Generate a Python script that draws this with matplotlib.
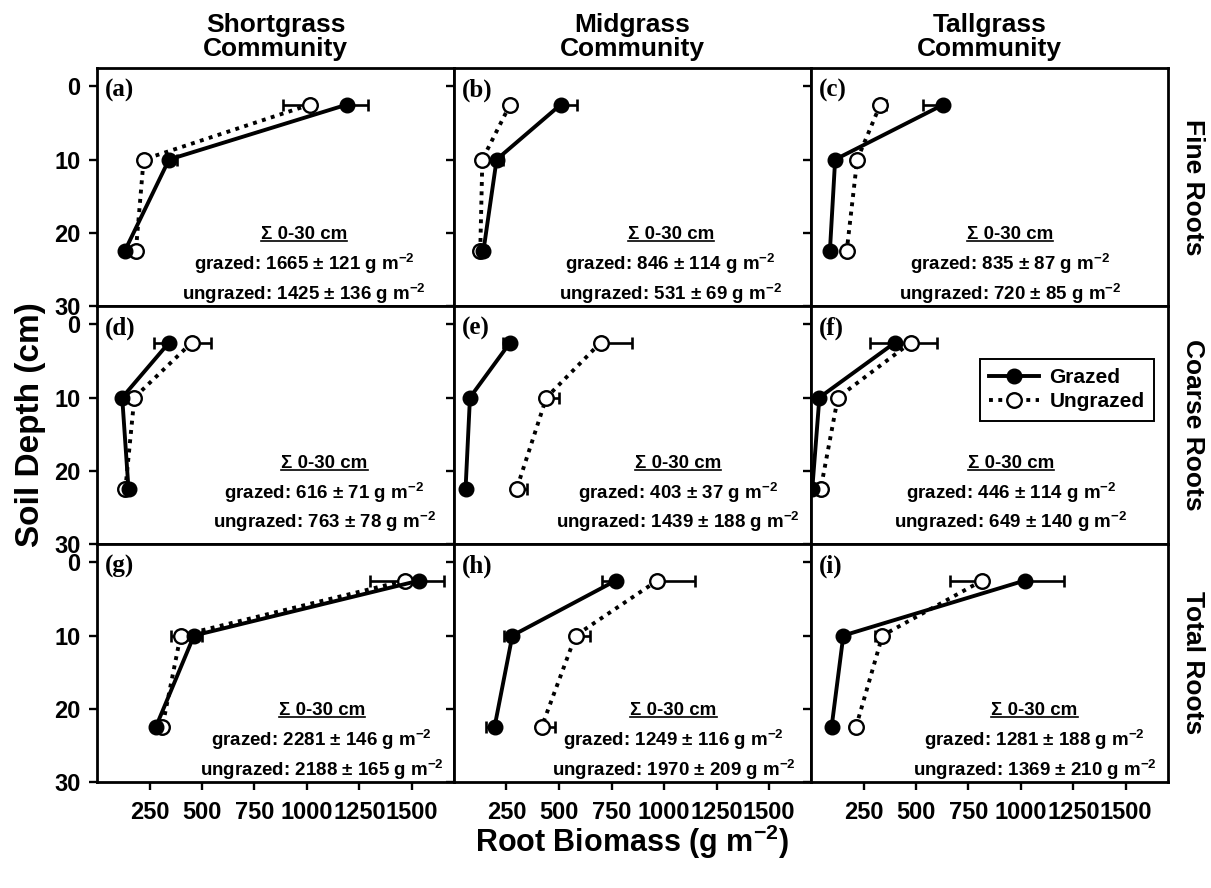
import numpy as np
import matplotlib
matplotlib.use("Agg")
import matplotlib.pyplot as plt
from matplotlib.lines import Line2D

plt.rcParams['font.family'] = ['Liberation Sans', 'DejaVu Sans']
plt.rcParams['font.weight'] = 'bold'
plt.rcParams['mathtext.fontset'] = 'custom'
plt.rcParams['mathtext.rm'] = 'Liberation Sans:bold'
plt.rcParams['mathtext.bf'] = 'Liberation Sans:bold'
plt.rcParams['mathtext.it'] = 'Liberation Sans:bold:italic'

# depth midpoints of the 0-5, 5-15, 15-30 cm layers
depth = [2.5, 10, 22.5]

communities = ["Shortgrass\nCommunity", "Midgrass\nCommunity", "Tallgrass\nCommunity"]
root_types = ["Fine Roots", "Coarse Roots", "Total Roots"]
panel_tags = [["(a)", "(b)", "(c)"], ["(d)", "(e)", "(f)"], ["(g)", "(h)", "(i)"]]

# root biomass per layer (g m-2), one list per community
fine_grazed = [[1190, 343, 132], [508, 203, 140], [630, 115, 90]]
fine_ungrazed = [[1014, 222, 185], [267, 135, 125], [330, 220, 170]]
coarse_grazed = [[343, 120, 150], [267, 76, 55], [400, 40, 6]]
coarse_ungrazed = [[451, 178, 135], [698, 440, 298], [475, 128, 46]]
total_grazed = [[1534, 462, 280], [770, 278, 193], [1017, 154, 98]]
total_ungrazed = [[1466, 398, 311], [968, 579, 417], [815, 340, 214]]

# standard errors, sign tells the side the bar is drawn on (+ right, - left)
fine_grazed_se = [[100, 38, 0], [76, 30, 15], [-95, 0, 0]]
fine_ungrazed_se = [[-129, 0, 0], [-24, 0, 0], [29, 0, 0]]
coarse_grazed_se = [[-70, 30, 0], [-32, 0, 0], [-119, 0, 0]]
coarse_ungrazed_se = [[90, 0, 0], [150, 60, 50], [127, 0, 0]]
total_grazed_se = [[119, 40, 0], [-67, -40, -40], [190, 0, 0]]
total_ungrazed_se = [[-164, -46, 0], [180, 68, 64], [-151, -37, 0]]

# 0-30 cm sums (g m-2)
sum_grazed = [[1665, 846, 835], [616, 403, 446], [2281, 1249, 1281]]
sum_grazed_se = [[121, 114, 87], [71, 37, 114], [146, 116, 188]]
sum_ungrazed = [[1425, 531, 720], [763, 1439, 649], [2188, 1970, 1369]]
sum_ungrazed_se = [[136, 69, 85], [78, 188, 140], [165, 209, 210]]

x_ticks_fine = [200, 400, 600, 800, 1000, 1200, 1400, 1600]
x_ticks = [250, 500, 750, 1000, 1250, 1500]
y_ticks = [0, 10, 20, 30]

grazed = [fine_grazed, coarse_grazed, total_grazed]
ungrazed = [fine_ungrazed, coarse_ungrazed, total_ungrazed]
grazed_se = [fine_grazed_se, coarse_grazed_se, total_grazed_se]
ungrazed_se = [fine_ungrazed_se, coarse_ungrazed_se, total_ungrazed_se]

W, H = 1211, 888
fig = plt.figure(figsize=(W / 100, H / 100), dpi=100)
axes = fig.subplots(3, 3)
fig.subplots_adjust(left=97 / W, right=1168 / W, bottom=1 - 782 / H, top=1 - 68 / H,
                    wspace=0, hspace=0)

text_x = [[0.58, 0.607, 0.557], [0.637, 0.628, 0.56], [0.63, 0.615, 0.626]]
text_y = [[0.28, 0.153, 0.027], [0.318, 0.19, 0.067], [0.28, 0.15, 0.024]]


def split_err(se):
    se = np.array(se, dtype=float)
    return [np.where(se < 0, -se, 0), np.where(se > 0, se, 0)]


sigma_texts = []
for r in range(3):
    for c in range(3):
        ax = axes[r][c]
        g = grazed[r][c]
        u = ungrazed[r][c]
        ax.errorbar(u, depth, xerr=split_err(ungrazed_se[r][c]), fmt='none', ecolor='k',
                    elinewidth=1.9, capsize=4, capthick=1.9, zorder=2)
        ax.errorbar(g, depth, xerr=split_err(grazed_se[r][c]), fmt='none', ecolor='k',
                    elinewidth=1.9, capsize=4, capthick=1.9, zorder=2)
        ax.plot(g, depth, color='k', lw=2.8, marker='o', ms=10.5, mfc='k', mec='k',
                label='Grazed', zorder=4)
        ax.plot(u, depth, color='k', lw=2.8, ls=(0, (1, 1.4)), marker='o', ms=10.5,
                mfc='white', mec='k', mew=1.7, label='Ungrazed', zorder=3)

        ax.set_xlim(0, 1700)
        ax.set_ylim(30, -2.5)
        ax.set_xticks(x_ticks_fine if (r == 0 and c == 0) else x_ticks)
        ax.set_yticks(y_ticks)
        ax.tick_params(direction='out', length=6, width=1.7, labelsize=17,
                       top=False, right=False)
        ax.tick_params(axis='y', pad=6)
        ax.tick_params(axis='x', pad=8)
        if c != 0:
            ax.set_yticklabels([])
        if r != 2:
            ax.set_xticklabels([])
        for sp in ax.spines.values():
            sp.set_linewidth(2.0)

        ax.text(0.022, 0.905, panel_tags[r][c], transform=ax.transAxes, va='center',
                ha='left', fontsize=18, fontfamily='Liberation Serif', fontweight='bold')

        tx = text_x[r][c]
        ty = text_y[r]
        t = ax.text(tx, ty[0], "\u03a3 0-30 cm", transform=ax.transAxes, ha='center',
                    va='baseline', fontsize=13.5)
        sigma_texts.append(t)
        ax.text(tx, ty[1], "grazed: %d \u00b1 %d g m$^{-2}$" % (sum_grazed[r][c], sum_grazed_se[r][c]),
                transform=ax.transAxes, ha='center', va='baseline', fontsize=13.5)
        ax.text(tx, ty[2], "ungrazed: %d \u00b1 %d g m$^{-2}$" % (sum_ungrazed[r][c], sum_ungrazed_se[r][c]),
                transform=ax.transAxes, ha='center', va='baseline', fontsize=13.5)

leg = axes[1][2].legend(loc='center', bbox_to_anchor=(0.717, 0.648), fontsize=15,
                        frameon=True, fancybox=False, framealpha=1, edgecolor='k',
                        handlelength=2.4, borderpad=0.45, labelspacing=0.25,
                        handletextpad=0.5)
leg.get_frame().set_linewidth(1.4)

for c in range(3):
    x0 = axes[0][c].get_position().x0
    x1 = axes[0][c].get_position().x1
    fig.text((x0 + x1) / 2, 1 - 37 / H, communities[c], ha='center', va='center',
             fontsize=19, linespacing=1.0)

for r in range(3):
    pos = axes[r][2].get_position()
    fig.text(1193 / W, (pos.y0 + pos.y1) / 2, root_types[r], rotation=-90, ha='center',
             va='center', fontsize=19)

fig.text(31 / W, 1 - 425 / H, "Soil Depth (cm)", rotation=90, ha='center',
         va='center', fontsize=24)
fig.text((97 + 1168) / 2 / W, 1 - 842 / H, "Root Biomass (g m$^{-2}$)", ha='center',
         va='center', fontsize=22)

# underline the sigma headings
fig.canvas.draw()
inv = fig.transFigure.inverted()
for t in sigma_texts:
    bb = t.get_window_extent()
    (fx0, fy0), (fx1, fy1) = inv.transform([(bb.x0, bb.y0 + 2), (bb.x1, bb.y0 + 2)])
    fig.add_artist(Line2D([fx0, fx1], [fy0, fy1], color='k', lw=1.2))

fig.savefig("out.png", dpi=100)
